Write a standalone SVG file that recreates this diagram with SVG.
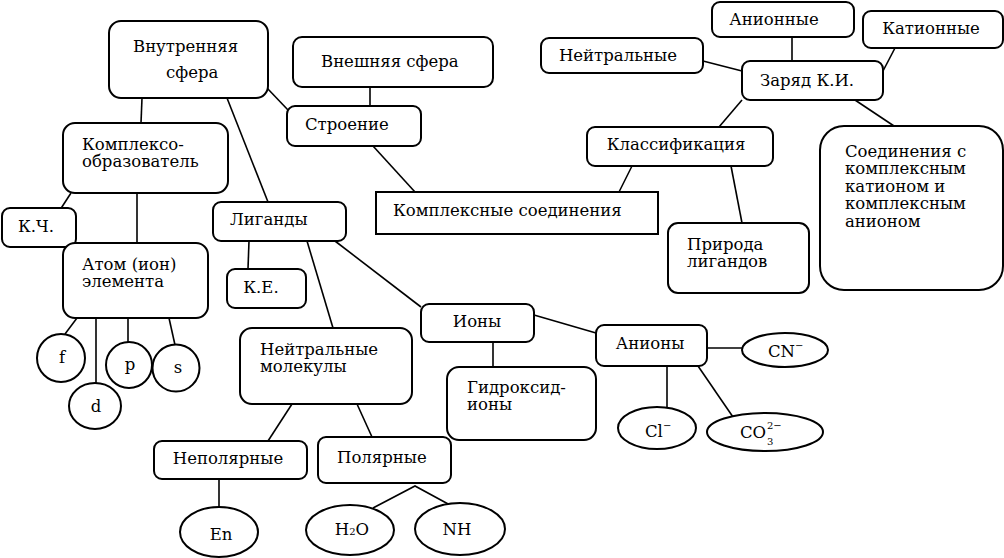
<svg xmlns="http://www.w3.org/2000/svg" width="1004" height="558" viewBox="0 0 1004 558">
<style>
.b{fill:#fff;stroke:#000;stroke-width:2}
.t{font-family:"DejaVu Serif","Liberation Serif",serif;font-size:16.5px;fill:#000}
.m{text-anchor:middle}
.s{font-size:10px}
#connectors line,#connectors polyline{stroke:#000;stroke-width:1.6;fill:none}
</style>
<rect width="1004" height="558" fill="#fff"/>
<g id="connectors">
<line x1="142" y1="98" x2="141" y2="123"/>
<line x1="227" y1="98" x2="268" y2="202"/>
<line x1="267" y1="88" x2="288" y2="110"/>
<line x1="370" y1="87" x2="370" y2="106"/>
<line x1="373" y1="146" x2="415" y2="192"/>
<line x1="632" y1="166" x2="619" y2="192"/>
<line x1="792" y1="37" x2="792" y2="61"/>
<line x1="895" y1="48" x2="883" y2="71"/>
<line x1="703" y1="61" x2="742" y2="71"/>
<line x1="742" y1="100" x2="719" y2="127"/>
<line x1="855" y1="100" x2="894" y2="126"/>
<line x1="731" y1="166" x2="742" y2="223"/>
<line x1="71" y1="193" x2="58" y2="213"/>
<line x1="137" y1="193" x2="137" y2="243"/>
<line x1="249" y1="241" x2="248" y2="269"/>
<line x1="307" y1="241" x2="333" y2="328"/>
<line x1="335" y1="241" x2="421" y2="307"/>
<line x1="77" y1="318" x2="65" y2="334"/>
<line x1="96" y1="318" x2="96" y2="383"/>
<line x1="128" y1="318" x2="128" y2="342"/>
<line x1="169" y1="318" x2="175" y2="345"/>
<line x1="493" y1="342" x2="493" y2="367"/>
<line x1="534" y1="315" x2="596" y2="333"/>
<line x1="707" y1="348" x2="742" y2="348"/>
<line x1="667" y1="366" x2="667" y2="407"/>
<line x1="698" y1="366" x2="733" y2="417"/>
<line x1="292" y1="404" x2="268" y2="441"/>
<line x1="357" y1="404" x2="372" y2="437"/>
<line x1="219" y1="479" x2="219" y2="507"/>
<polyline points="373,508 415,486 450,505"/>
</g>
<g id="vnutr"><rect class="b" x="109" y="21" width="159" height="77" rx="12"/><text class="t" x="133" y="52">Внутренняя</text><text class="t" x="166" y="78">сфера</text></g>
<g id="vnesh"><rect class="b" x="293" y="37" width="200" height="50" rx="9"/><text class="t" x="321" y="67">Внешняя сфера</text></g>
<g id="stroenie"><rect class="b" x="287" y="106" width="134" height="40" rx="8"/><text class="t" x="305" y="130">Строение</text></g>
<g id="kompleksoobr"><rect class="b" x="63" y="123" width="165" height="70" rx="12"/><text class="t" x="82" y="150">Комплексо-</text><text class="t" x="82" y="167">образователь</text></g>
<g id="ksoed"><rect class="b" x="376" y="192" width="282" height="42"/><text class="t" x="393" y="216">Комплексные соединения</text></g>
<g id="neytr"><rect class="b" x="541" y="38" width="162" height="35" rx="8"/><text class="t m" x="618" y="61">Нейтральные</text></g>
<g id="anionnye"><rect class="b" x="712" y="2" width="142" height="35" rx="8"/><text class="t m" x="774" y="25">Анионные</text></g>
<g id="kationnye"><rect class="b" x="863" y="11" width="140" height="37" rx="8"/><text class="t m" x="931" y="34">Катионные</text></g>
<g id="zaryad"><rect class="b" x="742" y="61" width="141" height="39" rx="8"/><text class="t m" x="807" y="86">Заряд К.И.</text></g>
<g id="klass"><rect class="b" x="587" y="127" width="186" height="39" rx="8"/><text class="t m" x="676" y="150">Классификация</text></g>
<g id="priroda"><rect class="b" x="668" y="223" width="141" height="70" rx="10"/><text class="t" x="687" y="250">Природа</text><text class="t" x="687" y="267">лигандов</text></g>
<g id="soed"><rect class="b" x="820" y="126" width="183" height="164" rx="24"/><text class="t" x="845" y="157">Соединения с</text><text class="t" x="845" y="174">комплексным</text><text class="t" x="845" y="192">катионом и</text><text class="t" x="845" y="209">комплексным</text><text class="t" x="845" y="227">анионом</text></g>
<g id="kch"><rect class="b" x="2" y="208" width="74" height="39" rx="8"/><text class="t m" x="36" y="232">К.Ч.</text></g>
<g id="atom"><rect class="b" x="63" y="243" width="145" height="75" rx="12"/><text class="t" x="82" y="270">Атом (ион)</text><text class="t" x="82" y="287">элемента</text></g>
<g id="ligandy"><rect class="b" x="213" y="202" width="133" height="39" rx="8"/><text class="t" x="230" y="225">Лиганды</text></g>
<g id="ke"><rect class="b" x="227" y="269" width="79" height="39" rx="8"/><text class="t m" x="261" y="293">К.Е.</text></g>
<g id="f"><circle class="b" cx="61" cy="358" r="24"/><text class="t m" x="62" y="363">f</text></g>
<g id="d"><ellipse class="b" cx="95" cy="406" rx="26" ry="23"/><text class="t m" x="96" y="412">d</text></g>
<g id="p"><circle class="b" cx="129" cy="365" r="23"/><text class="t m" x="130" y="370">p</text></g>
<g id="s"><circle class="b" cx="176" cy="368" r="23.5"/><text class="t m" x="178" y="373">s</text></g>
<g id="neytrmol"><rect class="b" x="240" y="328" width="172" height="76" rx="12"/><text class="t" x="260" y="355">Нейтральные</text><text class="t" x="260" y="372">молекулы</text></g>
<g id="iony"><rect class="b" x="421" y="304" width="113" height="38" rx="8"/><text class="t m" x="477" y="327">Ионы</text></g>
<g id="gidroksid"><rect class="b" x="447" y="367" width="149" height="73" rx="12"/><text class="t" x="467" y="393">Гидроксид-</text><text class="t" x="467" y="410">ионы</text></g>
<g id="aniony"><rect class="b" x="596" y="325" width="111" height="41" rx="8"/><text class="t m" x="650" y="349">Анионы</text></g>
<g id="cn"><ellipse class="b" cx="785" cy="350" rx="43" ry="17"/><text class="t" x="768" y="357">CN<tspan class="s" dy="-8">−</tspan></text></g>
<g id="cl"><ellipse class="b" cx="657" cy="428" rx="39" ry="21"/><text class="t" x="645" y="437">Cl<tspan class="s" dy="-8">−</tspan></text></g>
<g id="co3"><ellipse class="b" cx="765" cy="432" rx="58" ry="19"/><text class="t" x="740" y="438">CO</text><text class="t s" x="767" y="445">3</text><text class="t s" x="767" y="429">2−</text></g>
<g id="nepol"><rect class="b" x="154" y="441" width="153" height="38" rx="8"/><text class="t m" x="228" y="464">Неполярные</text></g>
<g id="pol"><rect class="b" x="318" y="437" width="133" height="46" rx="8"/><text class="t" x="337" y="463">Полярные</text></g>
<g id="en"><ellipse class="b" cx="219" cy="532" rx="39" ry="25"/><text class="t m" x="221" y="540">En</text></g>
<g id="h2o"><ellipse class="b" cx="350" cy="530" rx="44" ry="25"/><text class="t m" x="352" y="535">H<tspan class="s">2</tspan>O</text></g>
<g id="nh"><ellipse class="b" cx="460" cy="529" rx="45" ry="26"/><text class="t m" x="457" y="535">NH</text></g>
</svg>
